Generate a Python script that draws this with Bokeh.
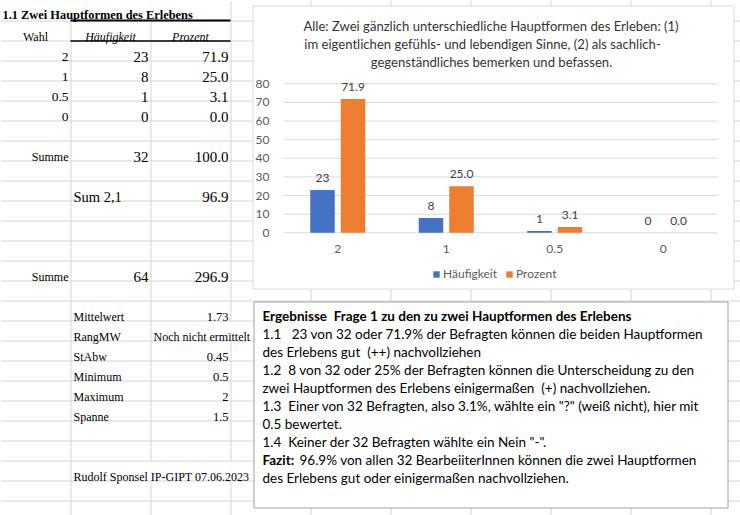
from bokeh.plotting import figure
from bokeh.models import (Range1d, ColumnDataSource, FixedTicker, LinearAxis,
                          Legend, LegendItem, LabelSet)
from bokeh.transform import dodge
from bokeh.core.properties import value
from bokeh.embed import file_html
from bokeh.resources import INLINE

# ---------------- data ----------------
categories = ["2", "1", "0.5", "0"]
haeufigkeit = [23, 8, 1, 0]
prozent = [71.9, 25.0, 3.1, 0.0]
series_names = ["Häufigkeit", "Prozent"]
y_ticks = [0, 10, 20, 30, 40, 50, 60, 70, 80]

sheet_title = "1.1 Zwei Hauptformen des Erlebens"
table_header = ["Wahl", "Häufigkeit", "Prozent"]
summe_label = "Summe"
summe_values = ["32", "100.0"]
sum21_label = "Sum 2,1"
sum21_value = "96.9"
summe2_values = ["64", "296.9"]
stat_labels = ["Mittelwert", "RangMW", "StAbw", "Minimum", "Maximum", "Spanne"]
stat_values = ["1.73", "Noch nicht ermittelt", "0.45", "0.5", "2", "1.5"]
author = "Rudolf Sponsel IP-GIPT 07.06.2023"

chart_title_lines = [
    "Alle: Zwei gänzlich unterschiedliche Hauptformen des Erleben: (1)",
    "im eigentlichen gefühls- und lebendigen Sinne, (2) als sachlich-",
    "gegenständliches bemerken und befassen.",
]

NB = "\u00a0"
textbox_head = "Ergebnisse" + NB + NB + "Frage 1 zu den zu zwei Hauptformen des Erlebens"
textbox_lines = [
    "1.1" + NB * 3 + "23 von 32 oder 71.9% der Befragten können die beiden Hauptformen",
    "des Erlebens gut" + NB + NB + "(++) nachvollziehen",
    "1.2" + NB + NB + "8 von 32 oder 25% der Befragten können die Unterscheidung zu den",
    "zwei Hauptformen des Erlebens einigermaßen" + NB + NB + "(+) nachvollziehen.",
    "1.3" + NB + NB + "Einer von 32 Befragten, also 3.1%, wählte ein \"?\" (weiß nicht), hier mit",
    "0.5 bewertet.",
    "1.4" + NB + NB + "Keiner der 32 Befragten wählte ein Nein \"-\".",
]
fazit_label = "Fazit:"
fazit_lines = [
    "96.9% von allen 32 BearbeiiterInnen können die zwei Hauptformen",
    "des Erlebens gut oder einigermaßen nachvollziehen.",
]

# ---------------- page figure (page pixel coordinates) ----------------
W, H = 740, 515
SERIF = "Liberation Serif"
SANS = "Lato"
GRID = "#d4d4d4"

p = figure(width=W, height=H, x_range=Range1d(0, W), y_range=Range1d(H, 0),
           output_backend="svg", toolbar_location=None, x_axis_location=None,
           y_axis_location=None, min_border=0, title_location=None)
p.outline_line_color = None
p.background_fill_color = "white"
p.border_fill_color = "white"
p.xgrid.visible = False
p.ygrid.visible = False

# spreadsheet cell grid
col_lines = [70, 150, 230, 310, 390, 470, 550, 630, 710]
hidden = {70: [(0, 20)], 150: [(0, 20), (460, 480)], 230: [(320, 340), (460, 480)]}
sx0, sy0, sx1, sy1 = [], [], [], []
for cx in col_lines:
    start = 0
    for (a, b) in hidden.get(cx, []):
        sx0.append(cx + 0.5); sy0.append(start); sx1.append(cx + 0.5); sy1.append(a)
        start = b
    sx0.append(cx + 0.5); sy0.append(start); sx1.append(cx + 0.5); sy1.append(H)
for ry in range(20, H, 20):
    sx0.append(0); sy0.append(ry + 0.5); sx1.append(W); sy1.append(ry + 0.5)
p.segment(x0=sx0, y0=sy0, x1=sx1, y1=sy1, line_color=GRID, line_width=1)

# table header borders
p.segment(x0=[70], y0=[20], x1=[230], y1=[20], line_color="black", line_width=2)
p.segment(x0=[70], y0=[40.5], x1=[230], y1=[40.5], line_color="black", line_width=1.5)

# chart box and text box
p.quad(left=[252.5], right=[733.5], top=[5.5], bottom=[288.5],
       fill_color="white", line_color="#d9d9d9", line_width=1)
p.quad(left=[253.5], right=[727.5], top=[301.5], bottom=[507.5],
       fill_color="white", line_color="#a0a0a0", line_width=1)


def cell(x, y, txt, align="right", size="15px", style="normal"):
    p.text(x=[x], y=[y], text=[txt], text_align=align, text_baseline="alphabetic",
           text_font=value(SERIF), text_font_size=size, text_font_style=style,
           text_color="black")


def base(r, d=3.5):
    return 20 * r + 20 - d


cell(2, 14, sheet_title, align="left", size="12.4px", style="bold")
cell(35, base(1, 4), table_header[0], align="center", size="12px")
cell(110, base(1, 4), table_header[1], align="center", size="12px", style="italic")
cell(190, base(1, 4), table_header[2], align="center", size="12px", style="italic")
for i, (c, h, pz) in enumerate(zip(categories, haeufigkeit, prozent)):
    r = 2 + i
    cell(68, base(r), c, size="13.5px")
    cell(148, base(r), str(h))
    cell(228, base(r), f"{pz:.1f}")
cell(68, base(7, 4), summe_label, size="12px")
cell(148, base(7), summe_values[0])
cell(228, base(7), summe_values[1])
cell(73, base(9), sum21_label, align="left", size="14.5px")
cell(228, base(9), sum21_value)
cell(68, base(13, 4), summe_label, size="12px")
cell(148, base(13), summe2_values[0])
cell(228, base(13), summe2_values[1])
for i, (lab, val) in enumerate(zip(stat_labels, stat_values)):
    r = 15 + i
    cell(73, base(r, 4), lab, align="left", size="12px")
    if val[0].isdigit():
        cell(228, base(r, 4), val, size="12.5px")
    else:
        cell(153, base(r, 4), val, align="left", size="12px")
cell(73, base(23, 4), author, align="left", size="12px")

# text box content
TB_X = 262
TB_Y = 315
TB_DY = 18
TB_SIZE = "13.5px"
common = dict(text_align="left", text_baseline="middle", text_font=value(SANS),
              text_font_size=TB_SIZE, text_color="black")
p.text(x=[TB_X], y=[TB_Y], text=[textbox_head], text_font_style="bold", **common)
p.text(x=[TB_X] * len(textbox_lines),
       y=[TB_Y + TB_DY * (i + 1) for i in range(len(textbox_lines))],
       text=textbox_lines, **common)
fy = TB_Y + TB_DY * (len(textbox_lines) + 1)
p.text(x=[TB_X], y=[fy], text=[fazit_label], text_font_style="bold", **common)
p.text(x=[TB_X + 37, TB_X], y=[fy, fy + TB_DY], text=fazit_lines, **common)

# chart title (three centred lines, page coordinates)
title_px = [(490.5, 25), (482, 43), (491, 61)]
p.text(x=[t[0] for t in title_px], y=[t[1] for t in title_px], text=chart_title_lines,
       text_align="center", text_baseline="middle", text_font=value(SANS),
       text_font_size="13.1px", text_color="#333333")

# ---------------- bar chart on its own scales ----------------
F_LEFT, F_RIGHT = 283, 717     # plot area on the page
ZERO_Y = 232.3                 # page y of value 0
PX_PER_UNIT = 149 / 80.0
cat_w = (F_RIGHT - F_LEFT) / len(categories)
p.extra_x_ranges = {"cx": Range1d((0 - F_LEFT) / cat_w, (W - F_LEFT) / cat_w)}
p.extra_y_ranges = {"cy": Range1d((ZERO_Y - H) / PX_PER_UNIT, ZERO_Y / PX_PER_UNIT)}
on = dict(x_range_name="cx", y_range_name="cy")

xc = [i + 0.5 for i in range(len(categories))]
src = ColumnDataSource(dict(
    xc=xc,
    cat=categories,
    h=haeufigkeit,
    pz=prozent,
    h_lbl=[str(v) for v in haeufigkeit],
    pz_lbl=[f"{v:.1f}" for v in prozent],
))

# value gridlines across the plot area
p.segment(x0=[0] * len(y_ticks), x1=[len(categories)] * len(y_ticks), y0=y_ticks, y1=y_ticks,
          line_color="#d9d9d9", line_width=1, **on)

OFF = 0.1406
BW = 0.226
r1 = p.vbar(x=dodge("xc", -OFF), top="h", width=BW, source=src,
            fill_color="#4472C4", line_color=None, **on)
r2 = p.vbar(x=dodge("xc", OFF), top="pz", width=BW, source=src,
            fill_color="#ED7D31", line_color=None, **on)

for xo, col in ((-OFF, "h"), (OFF, "pz")):
    p.add_layout(LabelSet(x=dodge("xc", xo), y=col, text=col + "_lbl", source=src,
                          text_align="center", text_baseline="bottom", y_offset=8,
                          text_font=value(SANS), text_font_size="12px",
                          text_color="#404040", **on))

yaxis = LinearAxis(ticker=FixedTicker(ticks=y_ticks), fixed_location=0, **on)
xaxis = LinearAxis(ticker=FixedTicker(ticks=xc), fixed_location=0,
                   major_label_overrides={x: c for x, c in zip(xc, categories)}, **on)
for ax in (xaxis, yaxis):
    ax.axis_line_color = None
    ax.major_tick_line_color = None
    ax.minor_tick_line_color = None
    ax.major_label_text_font = SANS
    ax.major_label_text_font_size = "12px"
    ax.major_label_text_color = "#595959"
yaxis.major_label_standoff = 8
xaxis.major_label_standoff = 6
p.add_layout(yaxis, "left")
p.add_layout(xaxis, "below")

legend = Legend(items=[LegendItem(label=series_names[0], renderers=[r1]),
                       LegendItem(label=series_names[1], renderers=[r2])],
                orientation="horizontal", location=(432, H - 281),
                glyph_width=8, glyph_height=8, label_standoff=3, spacing=8, padding=0,
                margin=0, label_height=12, border_line_color=None, background_fill_alpha=0,
                label_text_font=SANS, label_text_font_size="12px", label_text_color="#595959")
p.add_layout(legend, "center")

open("out.html", "w").write(file_html(p, INLINE))
